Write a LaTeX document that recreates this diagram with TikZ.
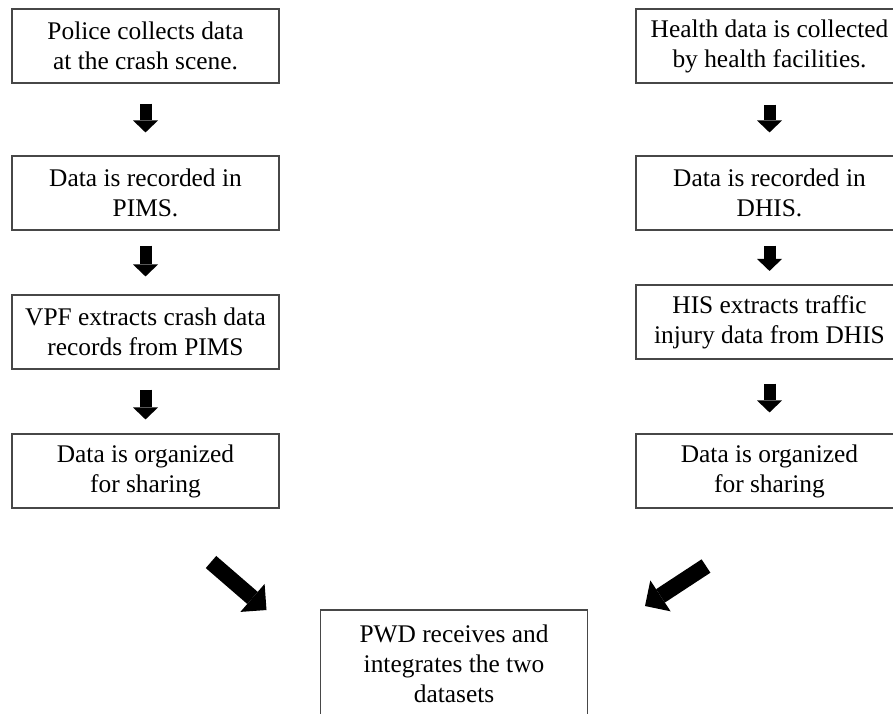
\documentclass[tikz,border=0pt]{standalone}
\usepackage{fontspec}
\setmainfont{Liberation Serif}
\usetikzlibrary{arrows.meta}

\tikzset{
  stepbox/.style={draw=black!72, line width=1.1pt, fill=white,
    minimum width=267pt, minimum height=74pt, inner sep=0pt,
    align=center, font=\fontsize{25.4}{30}\selectfont},
  downarrow/.style={line width=12pt,
    -{Triangle[width=25pt,length=12pt,line width=0pt]}},
  diagarrow/.style={line width=16pt,
    -{Triangle[width=37pt,length=18.5pt,line width=0pt]}}
}

\begin{document}
\begin{tikzpicture}[x=1pt,y=-1pt]
\useasboundingbox (0,0) rectangle (893,713);
\clip (0,0) rectangle (893,713);

% police side
\node[stepbox] (p1) at (145.5,46)  {Police collects data\\at the crash scene.};
\node[stepbox] (p2) at (145.5,193) {Data is recorded in\\PIMS.};
\node[stepbox] (p3) at (145.5,332) {VPF extracts crash data\\records from PIMS};
\node[stepbox] (p4) at (145.5,471) {Data is organized\\for sharing};

% health side
\node[stepbox] (h1) at (769.5,46)  {Health data is collected\\by health facilities.};
\node[stepbox] (h2) at (769.5,193) {Data is recorded in\\DHIS.};
\node[stepbox] (h3) at (769.5,322) {HIS extracts traffic\\injury data from DHIS};
\node[stepbox] (h4) at (769.5,471) {Data is organized\\for sharing};

% integration
\node[stepbox, minimum height=108pt] (pwd) at (454,664)
  {PWD receives and\\integrates the two\\datasets};

% vertical flow arrows
\draw[downarrow, shorten <=20pt, shorten >=23pt] (p1) -- (p2);
\draw[downarrow, shorten <=15pt, shorten >=18pt] (p2) -- (p3);
\draw[downarrow, shorten <=20pt, shorten >=14pt] (p3) -- (p4);
\draw[downarrow, shorten <=21pt, shorten >=23pt] (h1) -- (h2);
\draw[downarrow, shorten <=15pt, shorten >=13.5pt] (h2) -- (h3);
\draw[downarrow, shorten <=24pt, shorten >=21pt] (h3) -- (h4);

% arrows converging on the integration step
\coordinate (ltail) at (211,562);
\coordinate (lhead) at (266.5,610);
\coordinate (rtail) at (706,566);
\coordinate (rhead) at (645,606);
\draw[diagarrow] (ltail) -- (lhead);
\draw[diagarrow] (rtail) -- (rhead);
\end{tikzpicture}
\end{document}
